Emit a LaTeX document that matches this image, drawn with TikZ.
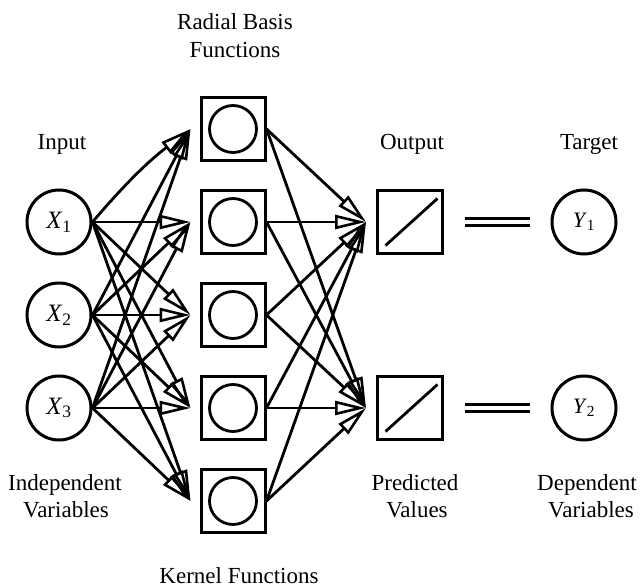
\documentclass[tikz,border=0pt]{standalone}
\usepackage{fontspec}
\setmainfont{Liberation Serif}
\usetikzlibrary{arrows.meta}
\begin{document}
\begin{tikzpicture}[x=1pt,y=-1pt,
  lbl/.style={font=\fontsize{23}{28}\selectfont, inner sep=0pt, anchor=base},
  innode/.style={circle, draw, line width=3pt, minimum size=64pt, inner sep=0pt, font=\fontsize{25}{25}\selectfont},
  tgnode/.style={circle, draw, line width=3pt, minimum size=64pt, inner sep=0pt, font=\fontsize{22}{22}\selectfont},
  rbf/.style={draw, line width=3pt, minimum width=64pt, minimum height=63pt, inner sep=0pt,
    path picture={\draw[line width=2.8pt] (path picture bounding box.center) circle (23.5pt);}},
  outbox/.style={draw, line width=3pt, minimum width=65pt, minimum height=63pt, inner sep=0pt,
    path picture={\draw[line width=2.8pt] ([xshift=8pt,yshift=8pt]path picture bounding box.south west) -- ([xshift=-5pt,yshift=-8pt]path picture bounding box.north east);}},
  conn/.style={line width=2.8pt, line join=miter, -{Triangle[open, length=31pt, width=14pt, line width=2.6pt]}},
  eqline/.style={line width=3pt, double, double distance=3.5pt}
]
\useasboundingbox (0,0) rectangle (643,588);

% input nodes
\node[innode] (x1) at (59,222) {\textit{X}\textsubscript{1}};
\node[innode] (x2) at (59,315) {\textit{X}\textsubscript{2}};
\node[innode] (x3) at (59,408) {\textit{X}\textsubscript{3}};

% RBF nodes
\node[rbf] (r1) at (233,129) {};
\node[rbf] (r2) at (233,222) {};
\node[rbf] (r3) at (233,315) {};
\node[rbf] (r4) at (233,408) {};
\node[rbf] (r5) at (233,501) {};

% output nodes
\node[outbox] (o1) at (410,222) {};
\node[outbox] (o2) at (410,408) {};

% targets
\node[tgnode] (y1) at (584,222) {\textit{Y}\textsubscript{1}};
\node[tgnode] (y2) at (584,408) {\textit{Y}\textsubscript{2}};

% arrow end coordinates
\foreach \j in {1,...,5}{\coordinate (r\j in) at ([xshift=-9pt]r\j.west);}
\coordinate (o1in) at ([xshift=-10pt]o1.west);
\coordinate (o2in) at ([xshift=-10pt]o2.west);

% input -> RBF
\draw[conn] (x1.east) to[bend left=6] (r1in);
\foreach \j in {2,...,5}{\draw[conn] (x1.east) -- (r\j in);}
\foreach \i in {2,3}{\foreach \j in {1,...,5}{\draw[conn] (x\i.east) -- (r\j in);}}

% RBF -> output
\foreach \j in {1,...,5}{
  \draw[conn] (r\j.east) -- (o1in);
  \draw[conn] (r\j.east) -- (o2in);
}

% equality lines
\draw[eqline] ([xshift=21pt]o1.east) -- ([xshift=-21pt]y1.west);
\draw[eqline] ([xshift=21pt]o2.east) -- ([xshift=-21pt]y2.west);

% labels
\node[lbl] (lrb1) at (235,30) {Radial Basis};
\node[lbl] (lrb2) at (235,58) {Functions};
\node[lbl] (lin) at (62,150) {Input};
\node[lbl] (lout) at (412,150) {Output};
\node[lbl] (ltg) at (589,150) {Target};
\node[lbl] (lind1) at (65,490) {Independent};
\node[lbl] (lind2) at (66,517) {Variables};
\node[lbl] (lpr1) at (415,490) {Predicted};
\node[lbl] (lpr2) at (417,517) {Values};
\node[lbl] (ldep1) at (587,490) {Dependent};
\node[lbl] (ldep2) at (591,517) {Variables};
\node[lbl] (lker) at (239,583) {Kernel Functions};
\end{tikzpicture}
\end{document}
